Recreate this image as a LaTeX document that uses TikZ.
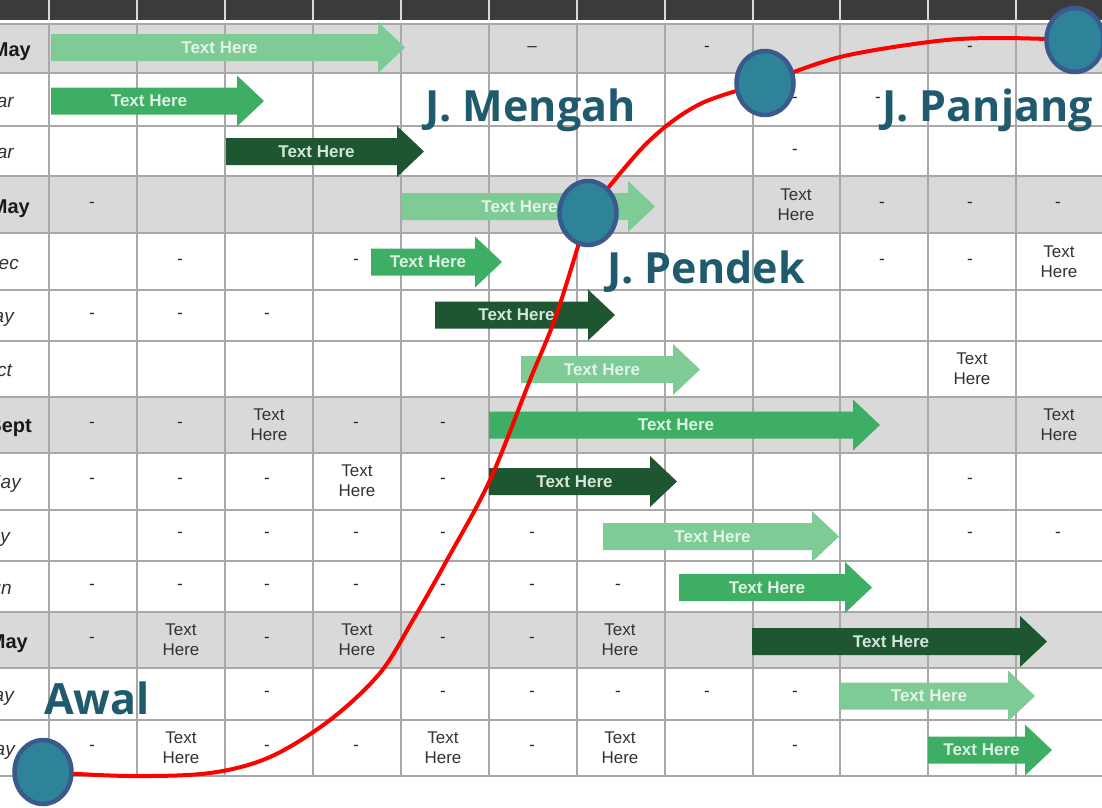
\documentclass[tikz,border=0pt]{standalone}
\usepackage{fontspec}
\setmainfont{Liberation Sans}
\newfontfamily\bigfont{Open Sans}
\usetikzlibrary{shapes.geometric}
\pgfdeclarelayer{tablelayer}
\pgfdeclarelayer{curvelayer}
\pgfsetlayers{tablelayer,curvelayer,main}
\definecolor{hdr}{HTML}{3B3B3B}
\definecolor{rowgray}{HTML}{D9D9D9}
\definecolor{gridc}{HTML}{A8A8A8}
\definecolor{glight}{HTML}{7ECB95}
\definecolor{gmed}{HTML}{3DAE63}
\definecolor{gdark}{HTML}{1E5631}
\definecolor{tlight}{HTML}{E2F4E7}
\definecolor{tmed}{HTML}{DDF2E3}
\definecolor{tdark}{HTML}{D3E6D7}
\definecolor{tealtext}{HTML}{1F5B6C}
\definecolor{dotfill}{HTML}{2E8399}
\definecolor{dotline}{HTML}{3A5A8E}
\tikzset{
 cell/.style={font=\fontsize{17}{20}\selectfont, text=black!80, align=center, inner sep=0},
 dashc/.style={font=\fontsize{17}{20}\selectfont, text=black!85, inner sep=0},
 rowlab/.style={anchor=base east, inner sep=0, font=\fontsize{19}{20}\selectfont\itshape, text=black!80},
 rowlabb/.style={anchor=base east, inner sep=0, font=\fontsize{20}{22}\selectfont\bfseries, text=black!90},
 bartext/.style={font=\fontsize{17}{18}\selectfont\bfseries, inner sep=0},
 big/.style={font=\bigfont\bfseries\fontsize{43}{48}\selectfont, text=tealtext, inner sep=0, anchor=base west},
 dot/.style={ellipse, draw=dotline, fill=dotfill, line width=4.5pt, minimum width=57pt, minimum height=64pt, inner sep=0},
 redline/.style={draw=red, line width=4pt, line cap=round},
 gridline/.style={draw=gridc, line width=1.3pt},
}
\newcommand\garrow[6]{%
 \fill[#2] (#4,#6-13.5) -- (#5,#6-13.5) -- (#5,#6-25.5) -- (#5+27,#6) -- (#5,#6+25.5) -- (#5,#6+13.5) -- (#4,#6+13.5) -- cycle;
 \node[bartext, text=#3] (#1) at ({(#4+#5)/2+5},#6) {Text Here};}
\newcommand\dsh[3]{\node[dashc] (#1) at (#2,#3) {-};}
\newcommand\txh[3]{\node[cell] (#1) at (#2,#3) {Text\\Here};}
\begin{document}
\begin{tikzpicture}[x=1pt,y=-1pt]
\useasboundingbox (0,0) rectangle (1102,807);
\clip (0,0) rectangle (1102,807);
\begin{pgfonlayer}{tablelayer}
 \fill[white] (0,0) rectangle (1102,807);
 \fill[hdr] (0,0) rectangle (1102,20);
 \foreach \x in {49,137,225,313,401,489,577,665,753,840,928,1016}
   \draw[draw=black!15, line width=1.2pt] (\x,0) -- (\x,20);
 \foreach \a/\b in {25/73,176/233,397/453,612/668}
   \fill[rowgray] (0,\a) rectangle (1102,\b);
 \foreach \y in {24,73,126,176,233,290,341,397,453,510,561,612,668,720,776}
   \draw[gridline] (0,\y) -- (1102,\y);
 \foreach \x in {49,137,225,313,401,489,577,665,753,840,928,1016}
   \draw[gridline] (\x,24) -- (\x,776);
 % row labels
 \node[rowlabb] (l1) at (31,56) {May};
 \node[rowlab] (l2) at (14,107) {Mar};
 \node[rowlab] (l3) at (14,158) {Mar};
 \node[rowlabb] (l4) at (30,213) {May};
 \node[rowlab] (l5) at (19,269) {Dec};
 \node[rowlab] (l6) at (14,322) {May};
 \node[rowlab] (l7) at (12,376) {Oct};
 \node[rowlabb] (l8) at (32,432) {Sept};
 \node[rowlab] (l9) at (21,488) {May};
 \node[rowlab] (l10) at (10,542) {May};
 \node[rowlab] (l11) at (12,594) {Jun};
 \node[rowlabb] (l12) at (28,648) {May};
 \node[rowlab] (l13) at (14,701) {May};
 \node[rowlab] (l14) at (15,755) {May};
 % arrows
 \garrow{a1}{glight}{tlight}{51}{378}{47.5}
 \garrow{a2}{gmed}{tmed}{51}{237}{101}
 \garrow{a3}{gdark}{tdark}{226}{397}{151.5}
 \garrow{a4}{glight}{tlight}{401}{628}{206.5}
 \garrow{a5}{gmed}{tmed}{371}{475}{262}
 \garrow{a6}{gdark}{tdark}{435}{588}{315}
 \garrow{a7}{glight}{tlight}{521}{673}{369.5}
 \garrow{a8}{gmed}{tmed}{489}{853}{425}
 \garrow{a9}{gdark}{tdark}{489}{650}{481.5}
 \garrow{a10}{glight}{tlight}{603}{812}{536.5}
 \garrow{a11}{gmed}{tmed}{679}{845}{587.5}
 \garrow{a12}{gdark}{tdark}{752}{1020}{641.5}
 \garrow{a13}{glight}{tlight}{840}{1008}{696}
 \garrow{a14}{gmed}{tmed}{928}{1025}{750}
 % cells
 \node[dashc] (d1a) at (532,49) {--};
 \dsh{d1b}{707}{49} \dsh{d1c}{970}{49}
 \dsh{d2a}{795}{100} \dsh{d2b}{878}{100}
 \dsh{d3a}{795}{152}
 \dsh{d4a}{92}{205} \txh{t4a}{796}{205} \dsh{d4b}{882}{205} \dsh{d4c}{970}{205} \dsh{d4d}{1058}{205}
 \dsh{d5a}{180}{262} \dsh{d5b}{356}{262} \dsh{d5c}{882}{262} \dsh{d5d}{970}{262} \txh{t5a}{1059}{262}
 \dsh{d6a}{92}{316} \dsh{d6b}{180}{316} \dsh{d6c}{267}{316}
 \txh{t7a}{972}{369}
 \dsh{d8a}{92}{425} \dsh{d8b}{180}{425} \txh{t8a}{269}{425} \dsh{d8c}{356}{425} \dsh{d8d}{443}{425} \txh{t8b}{1059}{425}
 \dsh{d9a}{92}{481} \dsh{d9b}{180}{481} \dsh{d9c}{267}{481} \txh{t9a}{357}{481} \dsh{d9d}{443}{481} \dsh{d9e}{970}{481}
 \dsh{d10a}{180}{535} \dsh{d10b}{267}{535} \dsh{d10c}{356}{535} \dsh{d10d}{443}{535} \dsh{d10e}{532}{535} \dsh{d10f}{970}{535} \dsh{d10g}{1058}{535}
 \dsh{d11a}{92}{587} \dsh{d11b}{180}{587} \dsh{d11c}{267}{587} \dsh{d11d}{356}{587} \dsh{d11e}{443}{587} \dsh{d11f}{532}{587} \dsh{d11g}{618}{587}
 \dsh{d12a}{92}{640} \txh{t12a}{181}{640} \dsh{d12b}{267}{640} \txh{t12b}{357}{640} \dsh{d12c}{443}{640} \dsh{d12d}{532}{640} \txh{t12c}{620}{640}
 \dsh{d13a}{267}{694} \dsh{d13b}{443}{694} \dsh{d13c}{532}{694} \dsh{d13d}{618}{694} \dsh{d13e}{707}{694} \dsh{d13f}{795}{694}
 \dsh{d14a}{92}{748} \txh{t14a}{181}{748} \dsh{d14b}{267}{748} \dsh{d14c}{356}{748} \txh{t14b}{443}{748} \dsh{d14d}{532}{748} \txh{t14c}{620}{748} \dsh{d14e}{795}{748}
\end{pgfonlayer}
% milestones
\node[dot] (c1) at (43,772) {};
\node[dot] (c2) at (588,213) {};
\node[dot] (c3) at (765,83) {};
\node[dot] (c4) at (1075,40) {};
\node[big] (awal) at (44,714) {Awal};
\node[big] (pendek) at (607,283) {J. Pendek};
\node[big] (mengah) at (425,121) {J. Mengah};
\node[big] (panjang) at (882,121) {J. Panjang};
\begin{pgfonlayer}{curvelayer}
 \draw[redline] plot[smooth, tension=0.55] coordinates {(c1.center) (130,776) (210,773) (270,757) (330,720) (380,673) (413,620) (447,560) (490,480) (530,380) (557,313) (c2.center)};
 \draw[redline] plot[smooth, tension=0.55] coordinates {(c2.center) (647,143) (700,104) (c3.center)};
 \draw[redline] plot[smooth, tension=0.55] coordinates {(c3.center) (840,57) (937,41) (1000,38) (c4.center)};
\end{pgfonlayer}
\end{tikzpicture}
\end{document}
